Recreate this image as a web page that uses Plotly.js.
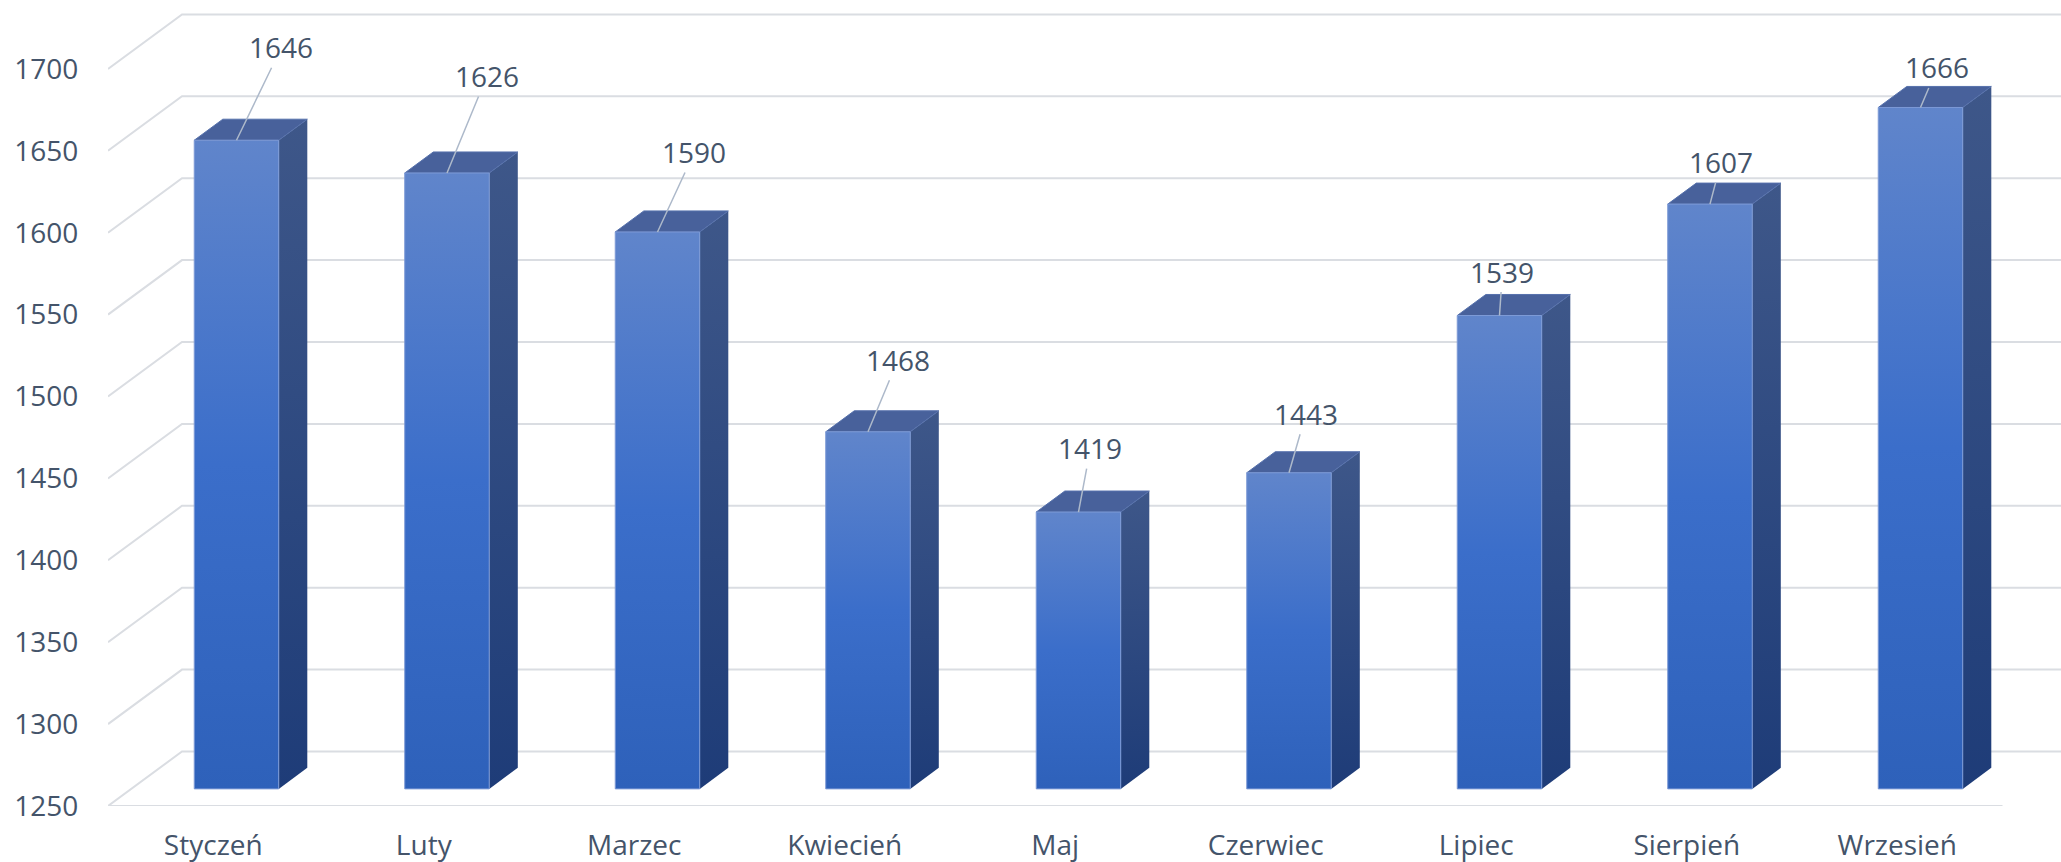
<!DOCTYPE html>
<html><head><meta charset="utf-8">
<script src="https://cdn.plot.ly/plotly-3.0.1.min.js"></script>
<style>html,body{margin:0;padding:0;background:#fff;}#chart{width:2061px;height:862px;}</style>
</head><body><div id="chart"></div>
<script>
// ---- data ----
const categories = ['Styczeń','Luty','Marzec','Kwiecień','Maj','Czerwiec','Lipiec','Sierpień','Wrzesień'];
const values = [1646,1626,1590,1468,1419,1443,1539,1607,1666];
const yTicks = [1250,1300,1350,1400,1450,1500,1550,1600,1650,1700];
const yTickLabels = yTicks.map(String);

// ---- geometry / style ----
const W = 2061, H = 862;
const margin = {l:108, r:0, t:0, b:56};
const catPx = 210.5, valPx = 1.638;
const baseVal = yTicks[0];
const xMin = -0.5, xMax = xMin + (W - margin.l - margin.r) / catPx;
const yMax = baseVal + (H - margin.t - margin.b) / valPx;
const depthX = 74 / catPx, depthY = 54.5 / valPx;
const barFront = 0.314, barBack = 0.70, halfW = 0.2007;
const labelOffsets = [[45,-93],[40,-97],[37,-80],[30,-72],[12,-64],[17,-59],[3,-44],[11,-42],[17,-40]];
const textColor = '#44546A', gridColor = '#DADDE2', fontFam = '"Open Sans", "Noto Sans", sans-serif';

const traces = [];
const annotations = [];
const fx = barFront * depthX, fy = barFront * depthY;
const bx = barBack * depthX, by = barBack * depthY;

values.forEach((v, i) => {
  const xl = i - halfW, xr = i + halfW;
  // side face
  traces.push({
    type: 'scatter', mode: 'lines', fill: 'toself', hoverinfo: 'skip', showlegend: false,
    x: [xr + fx, xr + bx, xr + bx, xr + fx, xr + fx],
    y: [baseVal + fy, baseVal + by, v + by, v + fy, baseVal + fy],
    line: {width: 0, color: 'rgba(0,0,0,0)'},
    fillgradient: {type: 'vertical', colorscale: [[0, '#1E3C78'], [1, '#3E5789']]}
  });
  // top face
  traces.push({
    type: 'scatter', mode: 'lines', fill: 'toself', hoverinfo: 'skip', showlegend: false,
    x: [xl + fx, xr + fx, xr + bx, xl + bx, xl + fx],
    y: [v + fy, v + fy, v + by, v + by, v + fy],
    line: {width: 1, color: '#5671AC'},
    fillcolor: '#48619B'
  });
  // front face
  traces.push({
    type: 'scatter', mode: 'lines', fill: 'toself', hoverinfo: 'skip', showlegend: false,
    x: [xl + fx, xr + fx, xr + fx, xl + fx, xl + fx],
    y: [baseVal + fy, baseVal + fy, v + fy, v + fy, baseVal + fy],
    line: {width: 1, color: '#7D9AD6'},
    fillgradient: {type: 'vertical', colorscale: [[0, '#2E61BA'], [0.5, '#3B6ECA'], [1, '#6085CB']]}
  });
  annotations.push({
    x: i + fx, y: v + fy, xref: 'x', yref: 'y',
    text: String(v), showarrow: true, arrowhead: 0, arrowwidth: 1.5, arrowcolor: '#ADB9CA',
    ax: labelOffsets[i][0], ay: labelOffsets[i][1], standoff: 0,
    font: {family: fontFam, size: 28, color: textColor}
  });
});

// gridlines: left wall diagonal + back wall horizontal
const shapes = yTicks.map(t => ({
  type: 'path', xref: 'x', yref: 'y', layer: 'below',
  path: `M ${xMin},${t} L ${xMin + depthX},${t + depthY} L ${xMax + 1},${t + depthY}`,
  line: {color: gridColor, width: 2}
}));
// floor front edge
shapes.push({
  type: 'line', xref: 'x', yref: 'y', layer: 'below',
  x0: xMin, x1: categories.length - 0.5, y0: baseVal, y1: baseVal,
  line: {color: gridColor, width: 2}
});

const layout = {
  width: W, height: H, margin: margin,
  paper_bgcolor: '#fff', plot_bgcolor: 'rgba(0,0,0,0)',
  showlegend: false,
  font: {family: fontFam, size: 28, color: textColor},
  xaxis: {
    range: [xMin, xMax], showgrid: false, zeroline: false, showline: false,
    tickmode: 'array', tickvals: categories.map((c, i) => i), ticktext: categories,
    ticks: 'outside', ticklen: 14, tickcolor: 'rgba(0,0,0,0)',
    tickfont: {family: fontFam, size: 28, color: textColor}, fixedrange: true
  },
  yaxis: {
    range: [baseVal, yMax], showgrid: false, zeroline: false, showline: false,
    tickmode: 'array', tickvals: yTicks, ticktext: yTickLabels,
    ticks: 'outside', ticklen: 23, tickcolor: 'rgba(0,0,0,0)',
    tickfont: {family: fontFam, size: 28, color: textColor}, fixedrange: true
  },
  shapes: shapes,
  annotations: annotations
};

Plotly.newPlot('chart', traces, layout, {displayModeBar: false, staticPlot: true});
</script>
</body></html>
